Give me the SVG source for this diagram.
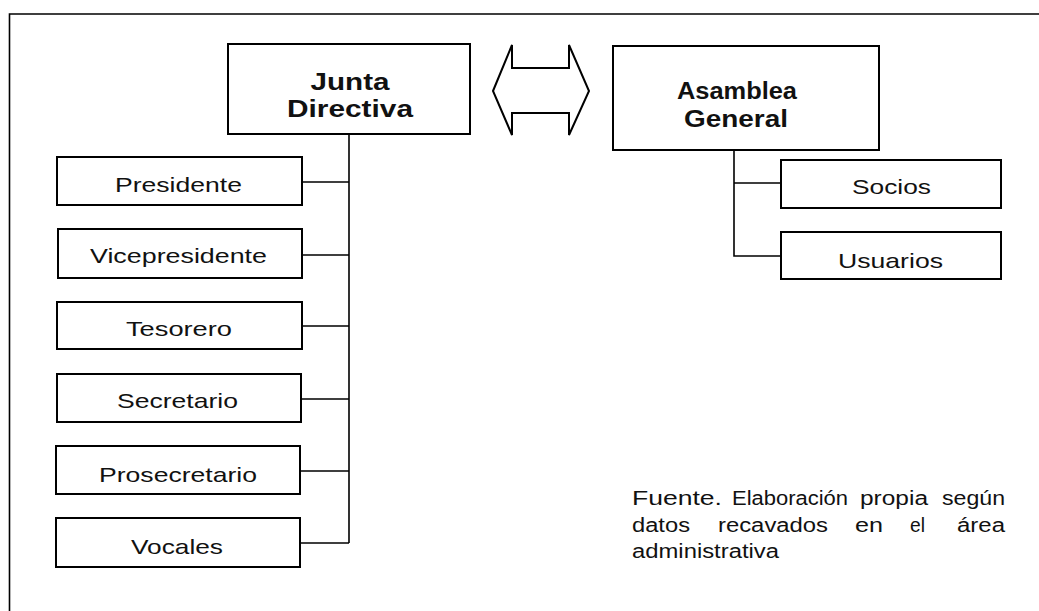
<svg xmlns="http://www.w3.org/2000/svg" width="1039" height="611" viewBox="0 0 1039 611">
<style>
.box{fill:#fff;stroke:#000;stroke-width:2}
.lbl{font-family:"Liberation Sans",Arial,sans-serif;font-size:21px;fill:#111;text-anchor:middle}
.big{font-family:"Liberation Sans",Arial,sans-serif;font-size:23px;font-weight:bold;fill:#111;text-anchor:middle}
.src{font-family:"Liberation Sans",Arial,sans-serif;font-size:20px;fill:#111}
.conn{fill:none;stroke:#000;stroke-width:1.6}
</style>
<rect width="1039" height="611" fill="#fff"/>
<g id="frame"><path class="conn" d="M1039 14 H9.5 V611" stroke-width="2"/></g>
<g id="connectors">
<path class="conn" d="M349 134 V543 M302 182 H349 M302 255 H349 M302 326 H349 M301 399 H349 M300 471 H349 M300 543 H349"/>
<path class="conn" d="M734 150 V256 H781 M734 183 H781"/>
<polygon class="box" stroke-width="1.6" points="493,91 512,45 512,68 569,68 569,45 589,91 569,135 569,113 512,113 512,135"/>
</g>
<g id="junta"><rect class="box" x="228" y="44" width="242" height="90"/>
<text class="big" x="350" y="90" textLength="79" lengthAdjust="spacingAndGlyphs">Junta</text>
<text class="big" x="350" y="117" textLength="126" lengthAdjust="spacingAndGlyphs">Directiva</text></g>
<g id="asamblea"><rect class="box" x="613" y="46" width="266" height="104"/>
<text class="big" x="737" y="99" textLength="120" lengthAdjust="spacingAndGlyphs">Asamblea</text>
<text class="big" x="736" y="127" textLength="104" lengthAdjust="spacingAndGlyphs">General</text></g>
<g id="presidente"><rect class="box" x="57" y="157" width="245" height="48"/>
<text class="lbl" x="178.5" y="192" textLength="127" lengthAdjust="spacingAndGlyphs">Presidente</text></g>
<g id="vicepresidente"><rect class="box" x="58" y="229" width="244" height="49"/>
<text class="lbl" x="178.5" y="263" textLength="177" lengthAdjust="spacingAndGlyphs">Vicepresidente</text></g>
<g id="tesorero"><rect class="box" x="57" y="302" width="245" height="47"/>
<text class="lbl" x="179" y="336" textLength="106" lengthAdjust="spacingAndGlyphs">Tesorero</text></g>
<g id="secretario"><rect class="box" x="57" y="374" width="244" height="48"/>
<text class="lbl" x="177.5" y="408" textLength="121" lengthAdjust="spacingAndGlyphs">Secretario</text></g>
<g id="prosecretario"><rect class="box" x="56" y="446" width="244" height="48"/>
<text class="lbl" x="178" y="482" textLength="158" lengthAdjust="spacingAndGlyphs">Prosecretario</text></g>
<g id="vocales"><rect class="box" x="56" y="518" width="244" height="49"/>
<text class="lbl" x="177" y="554" textLength="92" lengthAdjust="spacingAndGlyphs">Vocales</text></g>
<g id="socios"><rect class="box" x="781" y="160" width="220" height="48"/>
<text class="lbl" x="891.5" y="194" textLength="79" lengthAdjust="spacingAndGlyphs">Socios</text></g>
<g id="usuarios"><rect class="box" x="781" y="232" width="220" height="47"/>
<text class="lbl" x="890.5" y="268" textLength="105" lengthAdjust="spacingAndGlyphs">Usuarios</text></g>
<g id="fuente">
<text class="src" y="505"><tspan x="632" textLength="90" lengthAdjust="spacingAndGlyphs">Fuente.</tspan> <tspan x="732" textLength="116" lengthAdjust="spacingAndGlyphs">Elaboración</tspan> <tspan x="860" textLength="68" lengthAdjust="spacingAndGlyphs">propia</tspan> <tspan x="942" textLength="63" lengthAdjust="spacingAndGlyphs">según</tspan></text>
<text class="src" y="532"><tspan x="632" textLength="58" lengthAdjust="spacingAndGlyphs">datos</tspan> <tspan x="718" textLength="110" lengthAdjust="spacingAndGlyphs">recavados</tspan> <tspan x="855" textLength="28" lengthAdjust="spacingAndGlyphs">en</tspan> <tspan x="910" textLength="15" lengthAdjust="spacingAndGlyphs">el</tspan> <tspan x="957" textLength="48" lengthAdjust="spacingAndGlyphs">área</tspan></text>
<text class="src" x="632" y="558" textLength="147" lengthAdjust="spacingAndGlyphs">administrativa</text>
</g>
</svg>
